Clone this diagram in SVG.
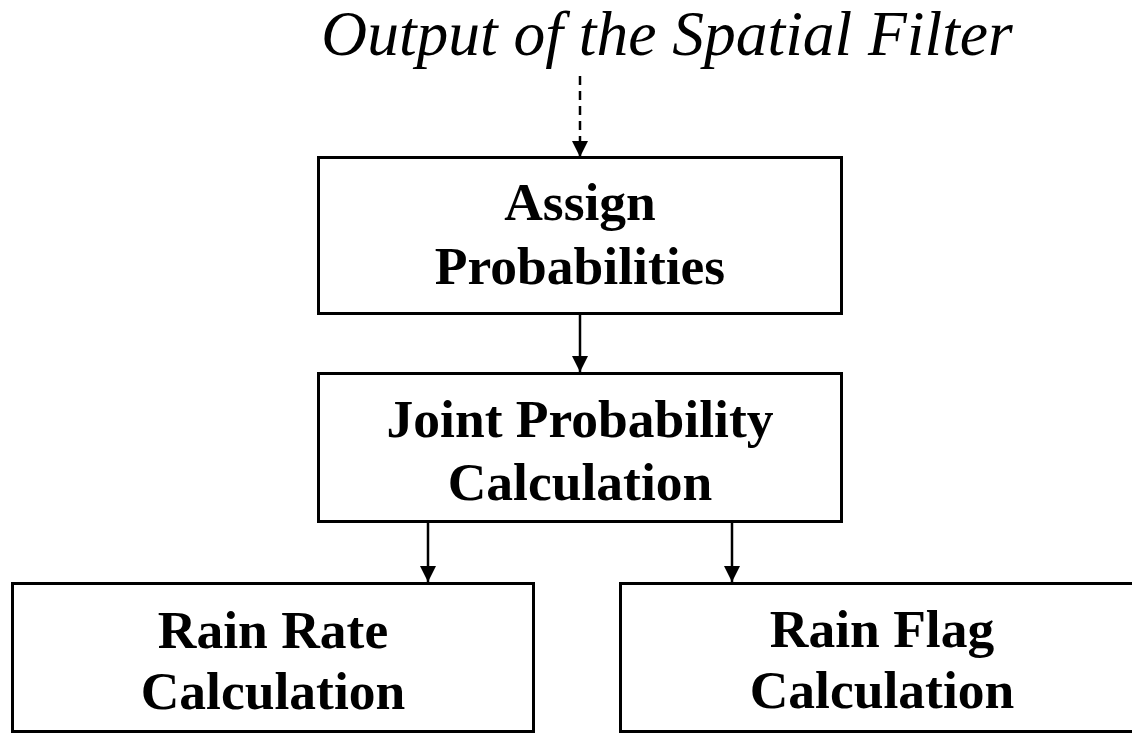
<svg xmlns="http://www.w3.org/2000/svg" width="1132" height="734" viewBox="0 0 1132 734">
<style>
.box{fill:#fff;stroke:#000;stroke-width:3}
.t{font-family:"Liberation Serif","Times New Roman",serif;font-weight:bold;font-size:53.5px;text-anchor:middle;fill:#000}
.ti{font-family:"Liberation Serif","Times New Roman",serif;font-style:italic;font-size:63.5px;text-anchor:middle;fill:#000}
.c{stroke:#000;stroke-width:2.5;fill:none}
</style>
<defs>
<marker id="ah" markerWidth="16" markerHeight="16" viewBox="0 0 16 16" refX="16" refY="8" orient="auto" markerUnits="userSpaceOnUse">
<path d="M0,0 L16,8 L0,16 Z" fill="#000"/>
</marker>
</defs>
<rect width="1132" height="734" fill="#fff"/>
<text class="ti" x="667" y="55">Output of the Spatial Filter</text>
<g id="connectors">
<line class="c" x1="580" y1="76" x2="580" y2="157" stroke-dasharray="9,6" marker-end="url(#ah)"/>
<line class="c" x1="580" y1="314" x2="580" y2="372" marker-end="url(#ah)"/>
<line class="c" x1="428" y1="521" x2="428" y2="582" marker-end="url(#ah)"/>
<line class="c" x1="732" y1="521" x2="732" y2="582" marker-end="url(#ah)"/>
</g>
<g id="assign">
<rect class="box" x="318.5" y="157.5" width="523" height="156"/>
<text class="t" x="580" y="220">Assign</text>
<text class="t" x="580" y="284">Probabilities</text>
</g>
<g id="joint">
<rect class="box" x="318.5" y="373.5" width="523" height="148"/>
<text class="t" x="580" y="437">Joint Probability</text>
<text class="t" x="580" y="500">Calculation</text>
</g>
<g id="rainrate">
<rect class="box" x="12.5" y="583.5" width="521" height="148"/>
<text class="t" x="273" y="648">Rain Rate</text>
<text class="t" x="273" y="709">Calculation</text>
</g>
<g id="rainflag">
<rect class="box" x="620.5" y="583.5" width="530" height="148"/>
<text class="t" x="882" y="647">Rain Flag</text>
<text class="t" x="882" y="708">Calculation</text>
</g>
</svg>
